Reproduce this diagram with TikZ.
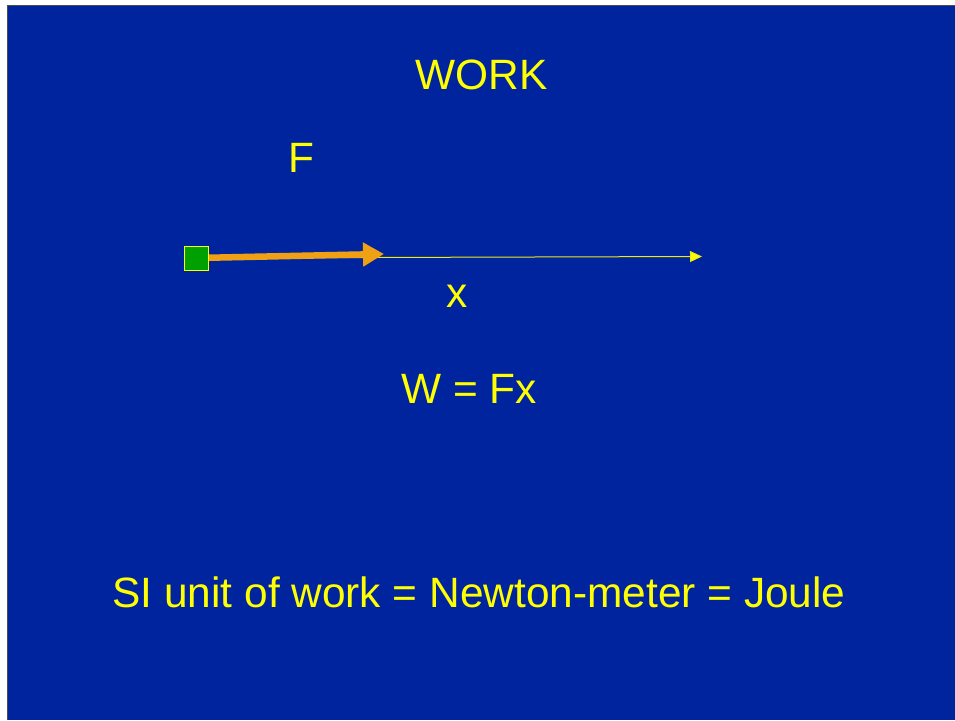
\documentclass[tikz,border=0pt]{standalone}
\usepackage{fontspec}
\setmainfont{Liberation Sans}
\usetikzlibrary{arrows.meta}
\definecolor{slideblue}{RGB}{0,36,158}
\definecolor{txtyellow}{RGB}{255,255,0}
\definecolor{forange}{RGB}{240,160,20}
\definecolor{boxgreen}{RGB}{0,160,0}
\tikzset{
  lbl/.style={text=txtyellow, inner sep=0pt, anchor=base, font=\fontsize{42.4}{50}\selectfont},
}
\begin{document}
\begin{tikzpicture}[x=1pt,y=-1pt]
\useasboundingbox (0,0) rectangle (955,720);
\fill[white] (0,0) rectangle (955,720);
\fill[slideblue] (7.5,5.5) rectangle (955,720);
\draw[gray!60!black, line width=1pt] (7.5,720) -- (7.5,5.5) -- (955,5.5);
\node[lbl] (title) at (481.5,89) {WORK};
\node[lbl] (flabel) at (301,172) {F};
\node[lbl] (xlabel) at (457.5,307) {x};
\node[lbl] (eq) at (469,403) {W = Fx};
\node[lbl] (unit) at (479,607) {SI unit of work = Newton-meter = Joule};
\coordinate (xend) at (702,256.5);
\coordinate (ftip) at (384,254);
\coordinate (sqc) at (196.5,258);
\draw[txtyellow!85!gray, line width=1pt, -{Triangle[length=12pt,width=11pt,fill=txtyellow]}] (sqc) -- (xend);
\draw[forange, line width=6.5pt, -{Triangle[length=21pt,width=23pt]}] (sqc) -- (ftip);
\node[draw=txtyellow, fill=boxgreen, line width=1pt, minimum size=24pt, inner sep=0pt] (sq) at (sqc) {};
\end{tikzpicture}
\end{document}
